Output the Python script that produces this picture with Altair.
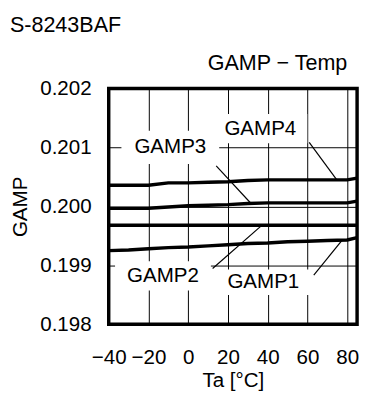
import altair as alt
import pandas as pd

# ---- data ----
temps = [-40, -30, -20, -10, 0, 10, 20, 30, 40, 50, 60, 70, 80, 85]
gamp1 = [0.19925, 0.19926, 0.19928, 0.19930, 0.19931, 0.19933, 0.19935,
         0.19937, 0.19938, 0.19940, 0.19941, 0.19942, 0.19943, 0.19947]
gamp2 = [0.19968, 0.19968, 0.19968, 0.19968, 0.19968, 0.19968, 0.19968,
         0.19968, 0.19968, 0.19968, 0.19968, 0.19968, 0.19968, 0.19968]
gamp3 = [0.19997, 0.19997, 0.19997, 0.19999, 0.20001, 0.20002, 0.20003,
         0.20005, 0.20006, 0.20006, 0.20006, 0.20006, 0.20006, 0.20009]
gamp4 = [0.20036, 0.20036, 0.20036, 0.20040, 0.20040, 0.20041, 0.20042,
         0.20044, 0.20045, 0.20045, 0.20045, 0.20045, 0.20045, 0.20048]
series_names = ["GAMP1", "GAMP2", "GAMP3", "GAMP4"]

x_ticks = [-40, -20, 0, 20, 40, 60, 80]
y_ticks = [0.198, 0.199, 0.200, 0.201, 0.202]
x_domain = [-40, 85]
y_domain = [0.198, 0.202]

# ---- annotation placement (data coordinates) ----
label_x = [37.8, -12.7, -9.0, 36.3]
label_y = [0.198714, 0.198822, 0.201000, 0.201320]
leader_x1 = [63.2, 12.3, 14.1, 60.9]
leader_y1 = [0.198835, 0.198946, 0.200689, 0.201087]
leader_x2 = [77.6, 36.6, 31.4, 74.8]
leader_y2 = [0.199432, 0.199665, 0.200058, 0.200451]
box_w_px = [96, 98, 100, 96]
box_h_px = [26, 30, 34, 30]

W, H = 254, 241
FONT = "Liberation Sans, Arial, sans-serif"
FS = 21

rows = []
for name, vals in zip(series_names, [gamp1, gamp2, gamp3, gamp4]):
    for t, v in zip(temps, vals):
        rows.append({"Ta": t, "GAMP": v, "series": name})
df = pd.DataFrame(rows)

xu = (x_domain[1] - x_domain[0]) / W
yu = (y_domain[1] - y_domain[0]) / H
ann = pd.DataFrame({
    "name": series_names,
    "lx": label_x, "ly": label_y,
    "x1": leader_x1, "y1": leader_y1, "x2": leader_x2, "y2": leader_y2,
    "bx1": [x - w / 2 * xu for x, w in zip(label_x, box_w_px)],
    "bx2": [x + w / 2 * xu for x, w in zip(label_x, box_w_px)],
    "by1": [y - h / 2 * yu for y, h in zip(label_y, box_h_px)],
    "by2": [y + h / 2 * yu for y, h in zip(label_y, box_h_px)],
})

xscale = alt.Scale(domain=x_domain, nice=False, zero=False)
yscale = alt.Scale(domain=y_domain, nice=False, zero=False)

xaxis = alt.Axis(values=x_ticks, title="Ta [°C]", format="d", grid=True,
                 ticks=False, tickSize=0, domain=False,
                 labelFontSize=FS, labelFont=FONT, labelColor="black",
                 labelBaseline="alphabetic", labelPadding=40, labelFlush=False,
                 labelOverlap=False,
                 titleFontSize=FS, titleFont=FONT, titleFontWeight="normal",
                 titleColor="black", titleBaseline="alphabetic", titleY=64,
                 titleX=W / 2)
yaxis = alt.Axis(values=y_ticks, title="GAMP", format=".3f", grid=True,
                 ticks=False, tickSize=0, domain=False,
                 labelFontSize=FS, labelFont=FONT, labelColor="black",
                 labelPadding=18, labelFlush=False, labelOverlap=False,
                 titleFontSize=FS, titleFont=FONT, titleFontWeight="normal",
                 titleColor="black", titleAngle=270, titleBaseline="alphabetic",
                 titleAlign="center", titleX=-84, titleY=H / 2)

base = alt.Chart(df)
lines = base.mark_line(color="black", strokeWidth=3.5).encode(
    x=alt.X("Ta:Q", scale=xscale, axis=xaxis),
    y=alt.Y("GAMP:Q", scale=yscale, axis=yaxis),
    detail="series:N",
)

annb = alt.Chart(ann)
boxes = annb.mark_rect(color="white", opacity=1).encode(
    x=alt.X("bx1:Q", scale=xscale), x2="bx2:Q",
    y=alt.Y("by1:Q", scale=yscale), y2="by2:Q",
)
texts = annb.mark_text(font=FONT, fontSize=FS, color="black",
                       baseline="middle", align="center").encode(
    x=alt.X("lx:Q", scale=xscale), y=alt.Y("ly:Q", scale=yscale), text="name:N"
)
leaders = annb.mark_rule(color="black", strokeWidth=1.2).encode(
    x=alt.X("x1:Q", scale=xscale), y=alt.Y("y1:Q", scale=yscale),
    x2="x2:Q", y2="y2:Q",
)

title1 = alt.Chart(pd.DataFrame({"t": ["S-8243BAF"]})).mark_text(
    font=FONT, fontSize=22, color="black", align="left", baseline="alphabetic"
).encode(text="t:N", x=alt.value(-101), y=alt.value(-58))
title2 = alt.Chart(pd.DataFrame({"t": ["GAMP \u2212 Temp"]})).mark_text(
    font=FONT, fontSize=22, color="black", align="right", baseline="alphabetic"
).encode(text="t:N", x=alt.value(244), y=alt.value(-19))

chart = alt.layer(lines, boxes, texts, leaders, title1, title2).properties(
    width=W, height=H,
    autosize=alt.AutoSizeParams(type="none"),
    padding={"left": 103, "top": 78, "right": 4, "bottom": 70},
).configure_view(
    stroke="black", strokeWidth=3.5
).configure_axis(
    gridColor="black", gridWidth=1, gridOpacity=1
)

chart.save("out.html", embed_options={"renderer": "svg", "actions": False})
